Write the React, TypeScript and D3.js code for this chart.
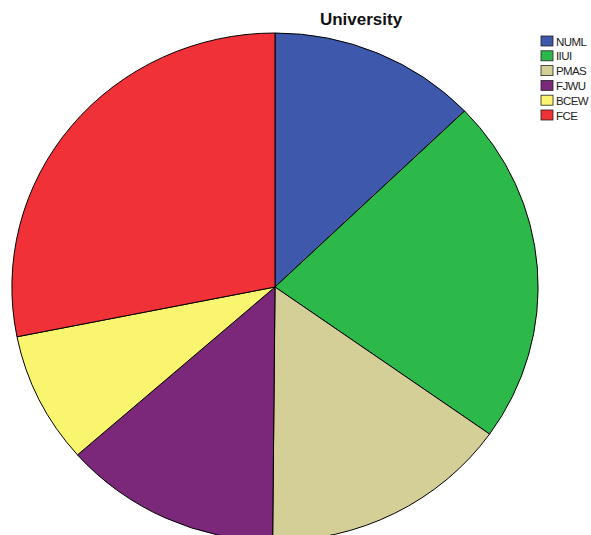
import React from "react";
import * as d3 from "d3";

const categories = ["NUML", "IIUI", "PMAS", "FJWU", "BCEW", "FCE"];
const values = [46, 79, 55, 48, 30, 101];
const colors = ["#3e58ac", "#2db84a", "#d4cf96", "#7b287a", "#faf56e", "#f03238"];
const title = "University";

export default function App() {
  const W = 591, H = 535;
  const cx = 275, cy = 287, rx = 263, ry = 254;
  const pie = d3.pie<number>().sort(null).value((d) => d);
  const arcs = pie(values);
  const arc = d3.arc<d3.PieArcDatum<number>>().innerRadius(0).outerRadius(1);
  return (
    <svg width={W} height={H} style={{ position: "absolute", left: 0, top: 0 }}>
      <rect width={W} height={H} fill="#fff" />
      <g transform={`translate(${cx},${cy}) scale(${rx},${ry})`}>
        {arcs.map((a, i) => (
          <path key={i} d={arc(a) || ""} fill={colors[i]} stroke="#000" strokeWidth={1} vectorEffect="non-scaling-stroke" strokeLinejoin="round" />
        ))}
      </g>
      <text x={361} y={25} textAnchor="middle" fontFamily="Liberation Sans, Arial, sans-serif" fontWeight="bold" fontSize={17} fill="#111">{title}</text>
      <g fontFamily="Liberation Sans, Arial, sans-serif" fontSize={11.5} fill="#222">
        {categories.map((c, i) => (
          <g key={c} transform={`translate(541,${36 + i * 14.8})`}>
            <rect x={0} y={0} width={12} height={10} fill={colors[i]} stroke="#222" strokeWidth={0.8} />
            <text x={15} y={9.5} letterSpacing={-0.6}>{c}</text>
          </g>
        ))}
      </g>
    </svg>
  );
}
